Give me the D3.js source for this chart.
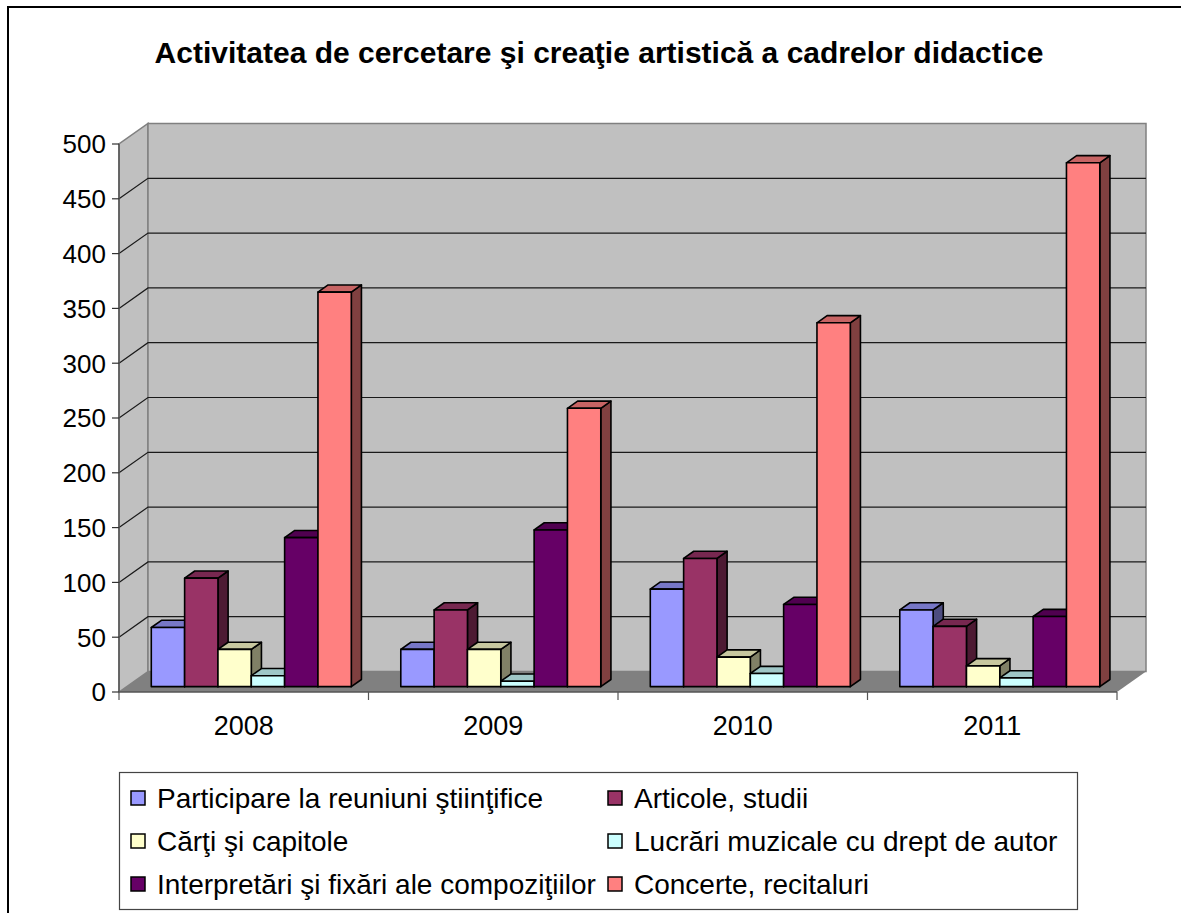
<!DOCTYPE html>
<html>
<head>
<meta charset="utf-8">
<script src="https://cdn.jsdelivr.net/npm/d3@7"></script>
<style>
  body { margin: 0; background: #fff; }
  text { font-family: "Liberation Sans", Arial, sans-serif; }
</style>
</head>
<body>
<div id="chart"></div>
<script>
// Data
var years = ["2008", "2009", "2010", "2011"];
var seriesNames = [
  "Participare la reuniuni ştiinţifice",
  "Articole, studii",
  "Cărţi şi capitole",
  "Lucrări muzicale cu drept de autor",
  "Interpretări şi fixări ale compoziţiilor",
  "Concerte, recitaluri"
];
var participare = [54, 34, 89, 70];
var articole = [99, 70, 117, 55];
var carti = [34, 34, 27, 19];
var lucrari = [10, 5, 12, 8];
var interpretari = [136, 143, 75, 64];
var concerte = [360, 254, 332, 478];
var colors = ["#9999FF", "#993366", "#FFFFCC", "#CCFFFF", "#660066", "#FF8080"];
var yTicks = [0, 50, 100, 150, 200, 250, 300, 350, 400, 450, 500];

var values = [participare, articole, carti, lucrari, interpretari, concerte];

var W = 1181, H = 913;
var svg = d3.select("#chart").append("svg")
  .attr("width", W)
  .attr("height", H);

// outer frame
svg.append("path")
  .attr("d", "M8,913 L8,7 L1181,7")
  .attr("fill", "none")
  .attr("stroke", "#000")
  .attr("stroke-width", 2);

// title
svg.append("text")
  .attr("x", 599)
  .attr("y", 63)
  .attr("text-anchor", "middle")
  .style("font-size", "30px")
  .style("font-weight", "bold")
  .text("Activitatea de cercetare şi creaţie artistică a cadrelor didactice");

// 3D geometry
var left = 119, right = 1117;
var DX = 29, DY = 20.5; // depth offset of back wall
var x = d3.scaleBand().domain(years).range([left, right]);
var y = d3.scaleLinear().domain([0, 500]).range([692, 144]);
var inner = d3.scaleBand().domain(d3.range(6)).range([0, 200]);
var groupOffset = (x.bandwidth() - 200) / 2;

function proj(px, v, z) {
  return [px + DX * z, y(v) - DY * z];
}
function poly(pts) {
  return "M" + pts.map(function (p) { return p[0] + "," + p[1]; }).join("L") + "Z";
}

// floor
svg.append("path")
  .attr("d", poly([proj(left, 0, 0), proj(left, 0, 1), proj(right, 0, 1), proj(right, 0, 0)]))
  .attr("fill", "#808080");

// side wall
svg.append("path")
  .attr("d", poly([proj(left, 0, 0), proj(left, 500, 0), proj(left, 500, 1), proj(left, 0, 1)]))
  .attr("fill", "#C0C0C0")
  .attr("stroke", "#808080")
  .attr("stroke-width", 1.5);

// back wall
svg.append("path")
  .attr("d", poly([proj(left, 0, 1), proj(left, 500, 1), proj(right, 500, 1), proj(right, 0, 1)]))
  .attr("fill", "#C0C0C0")
  .attr("stroke", "#808080")
  .attr("stroke-width", 1.5);

// gridlines on side and back walls
var grid = svg.append("g");
yTicks.filter(function (t) { return t > 0 && t < 500; }).forEach(function (t) {
  grid.append("path")
    .attr("d", "M" + proj(left, t, 0) + "L" + proj(left, t, 1) + "L" + proj(right, t, 1))
    .attr("fill", "none")
    .attr("stroke", "#1a1a1a")
    .attr("stroke-width", 1.2);
});

// y axis
svg.append("line")
  .attr("x1", left).attr("x2", left)
  .attr("y1", y(0)).attr("y2", y(500))
  .attr("stroke", "#555").attr("stroke-width", 1.5);
var yAxis = svg.append("g");
yTicks.forEach(function (t) {
  yAxis.append("line")
    .attr("x1", left - 7).attr("x2", left)
    .attr("y1", y(t)).attr("y2", y(t))
    .attr("stroke", "#333").attr("stroke-width", 1.2);
  yAxis.append("text")
    .attr("x", left - 13)
    .attr("y", y(t))
    .attr("dy", "0.36em")
    .attr("text-anchor", "end")
    .style("font-size", "26px")
    .text(t);
});

// x axis
svg.append("line")
  .attr("x1", left).attr("x2", right)
  .attr("y1", y(0)).attr("y2", y(0))
  .attr("stroke", "#555").attr("stroke-width", 1.5);
var xTicks = years.map(function (d) { return x(d); }).concat([right]);
xTicks.forEach(function (px) {
  svg.append("line")
    .attr("x1", px).attr("x2", px)
    .attr("y1", y(0)).attr("y2", y(0) + 8)
    .attr("stroke", "#555").attr("stroke-width", 1.2);
});
years.forEach(function (yr) {
  svg.append("text")
    .attr("x", x(yr) + x.bandwidth() / 2)
    .attr("y", 735)
    .attr("text-anchor", "middle")
    .style("font-size", "27px")
    .text(yr);
});

// bars
var z0 = 0.26, z1 = 0.61;
var bars = svg.append("g");
years.forEach(function (yr, yi) {
  values.forEach(function (vals, si) {
    var v = vals[yi];
    var x0 = x(yr) + groupOffset + inner(si);
    var x1 = x0 + inner.bandwidth();
    var c = d3.color(colors[si]);
    var top = d3.rgb(c.r * 0.78, c.g * 0.78, c.b * 0.78);
    var side = d3.rgb(c.r * 0.5, c.g * 0.5, c.b * 0.5);
    var g = bars.append("g")
      .attr("stroke", "#000")
      .attr("stroke-width", 1.6)
      .attr("stroke-linejoin", "round");
    g.append("path")
      .attr("d", poly([proj(x1, 0, z0), proj(x1, v, z0), proj(x1, v, z1), proj(x1, 0, z1)]))
      .attr("fill", side);
    g.append("path")
      .attr("d", poly([proj(x0, v, z0), proj(x0, v, z1), proj(x1, v, z1), proj(x1, v, z0)]))
      .attr("fill", top);
    g.append("path")
      .attr("d", poly([proj(x0, 0, z0), proj(x0, v, z0), proj(x1, v, z0), proj(x1, 0, z0)]))
      .attr("fill", colors[si]);
  });
});

// legend
var legend = svg.append("g");
legend.append("rect")
  .attr("x", 119.5).attr("y", 772.5)
  .attr("width", 958).attr("height", 137)
  .attr("fill", "#fff")
  .attr("stroke", "#444")
  .attr("stroke-width", 1.2);
seriesNames.forEach(function (name, i) {
  var col = i % 2, row = Math.floor(i / 2);
  var lx = col === 0 ? 131 : 608;
  var ly = 798 + row * 43;
  legend.append("rect")
    .attr("x", lx).attr("y", ly - 7)
    .attr("width", 14).attr("height", 14)
    .attr("fill", colors[i])
    .attr("stroke", "#000")
    .attr("stroke-width", 1.5);
  legend.append("text")
    .attr("x", lx + 26)
    .attr("y", ly)
    .attr("dy", "0.36em")
    .style("font-size", "28px")
    .text(name);
});
</script>
</body>
</html>
